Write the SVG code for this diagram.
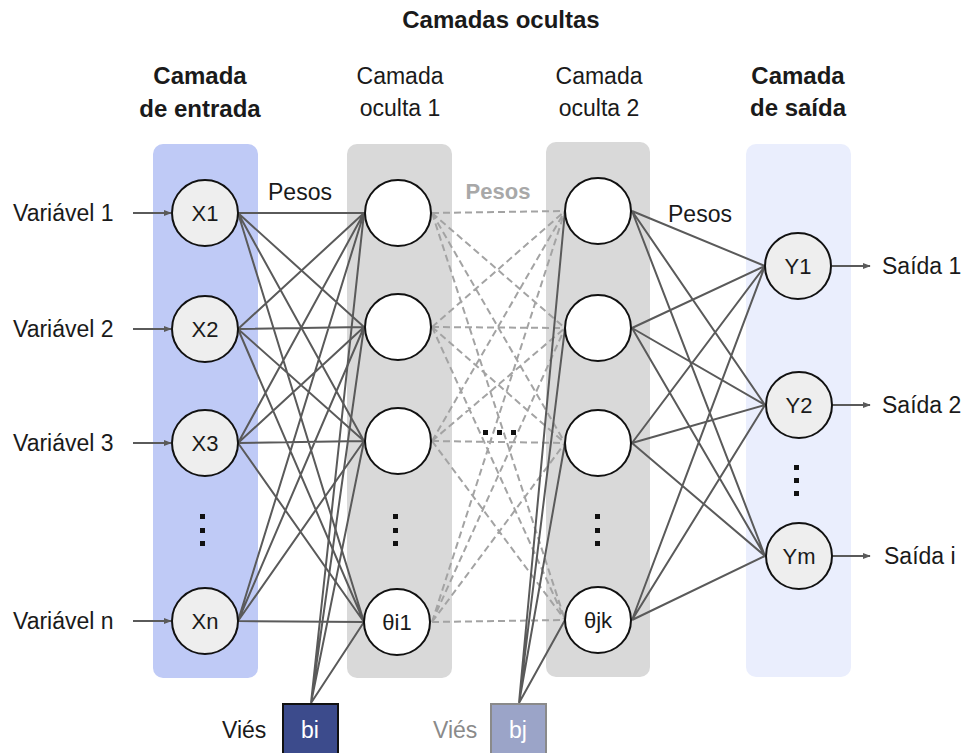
<svg xmlns="http://www.w3.org/2000/svg" width="962" height="753" viewBox="0 0 962 753">
<defs>
<style>
text{font-family:"Liberation Sans",Arial,sans-serif;font-size:23px;fill:#1a1a1a}
.b{font-weight:bold;font-size:24px}
.m{text-anchor:middle}
.n{font-size:22px}
.w{stroke:#5a5a5a;stroke-width:2;fill:none}
.d{stroke:#a3a3a3;stroke-width:2;fill:none;stroke-dasharray:7 4}
.a{stroke:#5a5a5a;stroke-width:2;fill:none}
.nin{fill:#eeeeee;stroke:#111;stroke-width:2}
.nh{fill:#ffffff;stroke:#111;stroke-width:2}
.dot{fill:#111}
</style>
<marker id="ar" viewBox="0 0 10 10" refX="9" refY="5" markerWidth="8" markerHeight="8" orient="auto" markerUnits="userSpaceOnUse">
<path d="M0,1 L10,5 L0,9 z" fill="#5a5a5a"/>
</marker>
</defs>
<rect width="962" height="753" fill="#ffffff"/>
<g id="layers">
<rect x="153" y="144" width="105" height="534" rx="10" fill="#bfcaf6"/>
<rect x="347" y="144" width="105" height="534" rx="10" fill="#d9d9d9"/>
<rect x="546" y="142" width="104" height="535" rx="10" fill="#d9d9d9"/>
<rect x="746" y="144" width="105" height="533" rx="10" fill="#eaeefd"/>
</g>
<g id="titles">
<text class="b m" x="501" y="28">Camadas ocultas</text>
<text class="b m" x="200" y="84">Camada</text>
<text class="b m" x="200" y="117">de entrada</text>
<text class="m" x="400" y="84">Camada</text>
<text class="m" x="400" y="116">oculta 1</text>
<text class="m" x="599" y="84">Camada</text>
<text class="m" x="599" y="116">oculta 2</text>
<text class="b m" x="798" y="84">Camada</text>
<text class="b m" x="798" y="116">de saída</text>
<text x="268" y="200">Pesos</text>
<text class="b m" x="498" y="199" style="fill:#a8a8a8;font-size:22px">Pesos</text>
<text x="668" y="222">Pesos</text>
</g>
<g id="connectors">
<path class="w" d="M238,213L364,213M238,213L364,327M238,213L364,441M238,213L364,622
M238,329L364,213M238,329L364,327M238,329L364,441M238,329L364,622
M238,443L364,213M238,443L364,327M238,443L364,441M238,443L364,622
M238,621L364,213M238,621L364,327M238,621L364,441M238,621L364,622"/>
<path class="w" d="M311,703L364,213M311,703L364,327M311,703L364,441M311,703L364,622"/>
<path class="d" d="M432,213L565,211M432,213L565,328M432,213L565,443M432,213L565,620
M432,327L565,211M432,327L565,328M432,327L565,443M432,327L565,620
M432,441L565,211M432,441L565,328M432,441L565,443M432,441L565,620
M432,622L565,211M432,622L565,328M432,622L565,443M432,622L565,620"/>
<path class="w" d="M519,703L565,211M519,703L565,328M519,703L565,443M519,703L565,620"/>
<path class="w" d="M632,211L765,266M632,211L765,405M632,211L765,556
M632,328L765,266M632,328L765,405M632,328L765,556
M632,443L765,266M632,443L765,405M632,443L765,556
M632,620L765,266M632,620L765,405M632,620L765,556"/>
<path class="a" marker-end="url(#ar)" d="M133,213L171,213"/>
<path class="a" marker-end="url(#ar)" d="M133,329L171,329"/>
<path class="a" marker-end="url(#ar)" d="M133,443L171,443"/>
<path class="a" marker-end="url(#ar)" d="M133,621L171,621"/>
<path class="a" marker-end="url(#ar)" d="M832,266L870,266"/>
<path class="a" marker-end="url(#ar)" d="M832,405L870,405"/>
<path class="a" marker-end="url(#ar)" d="M832,556L870,556"/>
</g>
<g id="input-labels">
<text x="13" y="221">Variável 1</text>
<text x="13" y="337">Variável 2</text>
<text x="13" y="451">Variável 3</text>
<text x="13" y="629">Variável n</text>
</g>
<g id="x1"><circle class="nin" cx="205" cy="213" r="33"/><text class="m n" x="205" y="221">X1</text></g>
<g id="x2"><circle class="nin" cx="205" cy="329" r="33"/><text class="m n" x="205" y="337">X2</text></g>
<g id="x3"><circle class="nin" cx="205" cy="443" r="33"/><text class="m n" x="205" y="451">X3</text></g>
<g id="xn"><circle class="nin" cx="205" cy="621" r="33"/><text class="m n" x="205" y="629">Xn</text></g>
<g id="h1a"><circle class="nh" cx="398" cy="213" r="33"/></g>
<g id="h1b"><circle class="nh" cx="398" cy="327" r="33"/></g>
<g id="h1c"><circle class="nh" cx="398" cy="441" r="33"/></g>
<g id="h1n"><circle class="nh" cx="397" cy="622" r="33"/><text class="m n" x="397" y="630">θi1</text></g>
<g id="h2a"><circle class="nh" cx="598" cy="211" r="33"/></g>
<g id="h2b"><circle class="nh" cx="598" cy="328" r="33"/></g>
<g id="h2c"><circle class="nh" cx="598" cy="443" r="33"/></g>
<g id="h2n"><circle class="nh" cx="598" cy="620" r="33"/><text class="m n" x="598" y="628">θjk</text></g>
<g id="y1"><circle class="nin" cx="798" cy="266" r="33"/><text class="m n" x="798" y="274">Y1</text></g>
<g id="y2"><circle class="nin" cx="799" cy="405" r="33"/><text class="m n" x="799" y="413">Y2</text></g>
<g id="ym"><circle class="nin" cx="799" cy="556" r="33"/><text class="m n" x="799" y="564">Ym</text></g>
<g id="output-labels">
<text x="882" y="274">Saída 1</text>
<text x="882" y="413">Saída 2</text>
<text x="884" y="564">Saída i</text>
</g>
<g id="ellipses">
<rect class="dot" x="200" y="514" width="5" height="5"/><rect class="dot" x="200" y="528" width="5" height="5"/><rect class="dot" x="200" y="541" width="5" height="5"/>
<rect class="dot" x="393" y="514" width="5" height="5"/><rect class="dot" x="393" y="528" width="5" height="5"/><rect class="dot" x="393" y="541" width="5" height="5"/>
<rect class="dot" x="595" y="514" width="5" height="5"/><rect class="dot" x="595" y="528" width="5" height="5"/><rect class="dot" x="595" y="541" width="5" height="5"/>
<rect class="dot" x="794" y="465" width="5" height="5"/><rect class="dot" x="794" y="478" width="5" height="5"/><rect class="dot" x="794" y="491" width="5" height="5"/>
<rect class="dot" x="483" y="430" width="5" height="5"/><rect class="dot" x="497" y="430" width="5" height="5"/><rect class="dot" x="511" y="430" width="5" height="5"/>
</g>
<g id="bias-i">
<text x="222" y="738">Viés</text>
<rect x="283" y="704" width="55" height="60" fill="#3c4b8c" stroke="#111" stroke-width="2"/>
<text class="m" x="310" y="738" style="fill:#ffffff">bi</text>
</g>
<g id="bias-j">
<text x="433" y="738" style="fill:#8a8a8a">Viés</text>
<rect x="491" y="704" width="55" height="60" fill="#9ba4c8" stroke="#8a8a8a" stroke-width="2"/>
<text class="m" x="518" y="738" style="fill:#ffffff">bj</text>
</g>
</svg>
